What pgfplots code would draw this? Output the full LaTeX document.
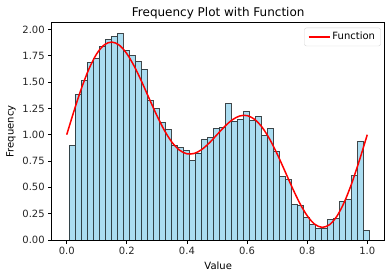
\documentclass[border=0pt]{standalone}
\usepackage{fontspec}
\setmainfont{DejaVu Sans}
\usepackage{pgfplots}
\usepackage{pgfplotstable}
\pgfplotsset{compat=1.18}
\definecolor{skyblue}{RGB}{135,206,235}
\definecolor{legedge}{RGB}{214,214,214}
\pgfplotstableread{
x y
0.008 0.899
0.028 1.383
0.048 1.516
0.068 1.687
0.088 1.725
0.108 1.839
0.128 1.905
0.148 1.934
0.168 1.962
0.188 1.804
0.208 1.753
0.228 1.696
0.248 1.623
0.268 1.326
0.288 1.250
0.308 1.117
0.328 1.051
0.348 0.902
0.368 0.880
0.388 0.851
0.408 0.756
0.428 0.826
0.448 0.956
0.468 0.975
0.488 1.060
0.508 1.070
0.528 1.297
0.548 1.130
0.568 1.146
0.588 1.222
0.608 1.136
0.628 1.177
0.648 0.994
0.668 1.060
0.688 0.842
0.708 0.604
0.728 0.570
0.748 0.339
0.768 0.329
0.788 0.215
0.808 0.149
0.828 0.111
0.848 0.111
0.868 0.196
0.888 0.206
0.908 0.370
0.928 0.380
0.948 0.608
0.968 0.937
0.988 0.092
1.008 0
}\histdata
\pgfplotstableread{
x y
0.000 1.0000
0.025 1.2327
0.050 1.4484
0.075 1.6315
0.100 1.7694
0.125 1.8536
0.150 1.8800
0.175 1.8500
0.200 1.7694
0.225 1.6484
0.250 1.5000
0.275 1.3393
0.300 1.1816
0.325 1.0410
0.350 0.9290
0.375 0.8536
0.400 0.8184
0.425 0.8225
0.450 0.8606
0.475 0.9237
0.500 1.0000
0.525 1.0763
0.550 1.1394
0.575 1.1775
0.600 1.1816
0.625 1.1464
0.650 1.0710
0.675 0.9590
0.700 0.8184
0.725 0.6607
0.750 0.5000
0.775 0.3516
0.800 0.2306
0.825 0.1500
0.850 0.1200
0.875 0.1464
0.900 0.2306
0.925 0.3685
0.950 0.5516
0.975 0.7673
1.000 1.0000
}\funcdata
\begin{document}
\begin{tikzpicture}
\useasboundingbox (0,0) rectangle (392bp,278bp);
\begin{axis}[
  at={(51.7bp,38bp)}, anchor=south west,
  scale only axis, width=333bp, height=217.3bp,
  xmin=-0.05, xmax=1.058, ymin=0, ymax=2.0636,
  axis line style={line width=0.8bp, black},
  tick style={line width=0.8bp, black},
  tick align=outside, major tick length=3.5bp,
  xtick pos=left, ytick pos=left,
  xtick={0,0.2,0.4,0.6,0.8,1.0},
  xticklabels={0.0,0.2,0.4,0.6,0.8,1.0},
  ytick={0,0.25,0.5,0.75,1.0,1.25,1.5,1.75,2.0},
  yticklabels={0.00,0.25,0.50,0.75,1.00,1.25,1.50,1.75,2.00},
  ticklabel style={font=\fontsize{10bp}{12bp}\selectfont, text=black!85},
  title={Frequency Plot with Function},
  title style={at={(axis description cs:0.5,1.0)}, anchor=base, font=\fontsize{12bp}{14bp}\selectfont, inner sep=0pt},
  xlabel={Value},
  xlabel style={at={(axis description cs:0.5,-0.138)}, anchor=base, font=\fontsize{10bp}{12bp}\selectfont, inner sep=0pt},
  ylabel={Frequency},
  ylabel style={at={(axis description cs:-0.1141,0.5)}, anchor=base, font=\fontsize{10bp}{12bp}\selectfont, inner sep=0pt},
  legend style={at={(0.988,0.977)}, anchor=north east, draw=legedge, rounded corners=2bp,
    font=\fontsize{10bp}{12bp}\selectfont, inner xsep=3.5bp, inner ysep=2.5bp},
  legend cell align=left,
  legend image code/.code={\draw[#1] (0bp,0bp) -- (21bp,0bp);},
]
\addplot[ybar interval, fill=skyblue, fill opacity=0.7, draw=black, draw opacity=0.7, line width=1bp, forget plot] table {\histdata};
\addplot[red, line width=1.5bp, smooth] table {\funcdata};
\addlegendentry{Function}
\end{axis}
\end{tikzpicture}
\end{document}
